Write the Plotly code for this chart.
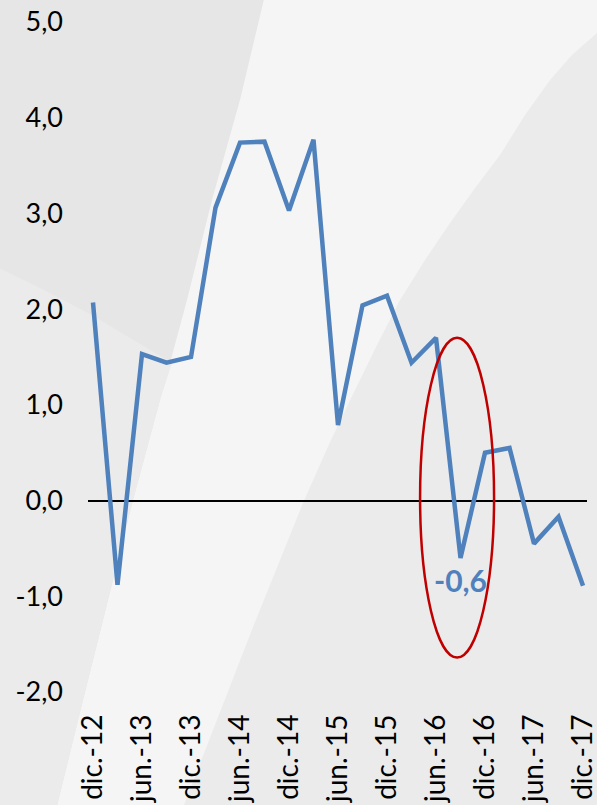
import plotly.graph_objects as go

# ---- data ----
periods = ["dic.-12", "mar.-13", "jun.-13", "sep.-13", "dic.-13", "mar.-14", "jun.-14",
           "sep.-14", "dic.-14", "mar.-15", "jun.-15", "sep.-15", "dic.-15", "mar.-16",
           "jun.-16", "sep.-16", "dic.-16", "mar.-17", "jun.-17", "sep.-17", "dic.-17"]
values = [2.07, -0.88, 1.53, 1.44, 1.50, 3.06, 3.74, 3.75, 3.03, 3.77, 0.79,
          2.04, 2.14, 1.44, 1.70, -0.60, 0.50, 0.55, -0.45, -0.17, -0.89]
tick_labels = ["dic.-12", "jun.-13", "dic.-13", "jun.-14", "dic.-14", "jun.-15",
               "dic.-15", "jun.-16", "dic.-16", "jun.-17", "dic.-17"]
y_ticks = [-2, -1, 0, 1, 2, 3, 4, 5]
y_tick_labels = [f"{v:.1f}".replace(".", ",") for v in y_ticks]
highlight_label = "-0,6"
highlight_index = 15

# ---- layout geometry ----
W, H = 597, 805
ML, MR, MT, MB = 88, 10, 22, 113
PW, PH = W - ML - MR, H - MT - MB

def px(xp, yp):
    return (xp - ML) / PW, (H - MB - yp) / PH

def path(points):
    parts = []
    for i, (a, b) in enumerate(points):
        x, y = px(a, b)
        parts.append(("M" if i == 0 else "L") + f"{x:.4f},{y:.4f}")
    return " ".join(parts) + " Z"

left_gray = [(-5, -5), (265, -5), (240, 100), (212, 200), (187, 300), (160, 400),
             (133, 500), (108, 600), (83, 700), (56, 810), (-5, 810)]
left_lighter = [(-5, 266), (40, 288), (90, 314), (130, 338), (172, 363), (160, 400),
                (133, 500), (108, 600), (83, 700), (56, 810), (-5, 810)]
right_gray = [(602, 30), (597, 33), (572, 55), (550, 80), (525, 115), (500, 155),
              (475, 188), (450, 223), (425, 260), (400, 300), (377, 345), (355, 390),
              (330, 442), (303, 503), (278, 565), (253, 627), (182, 810), (602, 810)]

x_idx = list(range(len(periods)))

fig = go.Figure()
fig.add_trace(go.Scatter(
    x=x_idx, y=values, mode="lines",
    line=dict(color="#4f81bd", width=4.5),
    hoverinfo="skip", showlegend=False,
))

shapes = [
    dict(type="path", xref="paper", yref="paper", path=path(left_gray),
         fillcolor="#e6e6e6", line=dict(width=0), layer="below"),
    dict(type="path", xref="paper", yref="paper", path=path(left_lighter),
         fillcolor="#ebebeb", line=dict(width=0), layer="below"),
    dict(type="path", xref="paper", yref="paper", path=path(right_gray),
         fillcolor="#ebebeb", line=dict(width=0), layer="below"),
    dict(type="circle", xref="x", yref="y", x0=13.35, x1=16.37, y0=-1.64, y1=1.70,
         line=dict(color="#c00000", width=2.5), fillcolor="rgba(0,0,0,0)", layer="above"),
]

fig.update_layout(
    width=W, height=H,
    margin=dict(l=ML, r=MR, t=MT, b=MB),
    paper_bgcolor="#f5f5f5",
    plot_bgcolor="rgba(0,0,0,0)",
    font=dict(family="Lato", color="#000000", size=27),
    shapes=shapes,
    showlegend=False,
    xaxis=dict(
        range=[-0.204, 20.163], showgrid=False, zeroline=False, showline=False,
        tickmode="array", tickvals=x_idx[::2], ticktext=tick_labels,
        tickangle=-90, ticks="", ticklabelstandoff=16, automargin=False,
        ticklabeloverflow="allow",
        tickfont=dict(size=28, family="Lato"),
    ),
    yaxis=dict(
        range=[-2, 5], showgrid=False, zeroline=True, zerolinecolor="#000000",
        zerolinewidth=1.5, showline=False, tickmode="array", tickvals=y_ticks,
        ticktext=y_tick_labels, ticks="", ticklabelstandoff=24, automargin=False,
        ticklabeloverflow="allow",
        tickfont=dict(size=27, family="Lato"),
    ),
    annotations=[dict(
        x=highlight_index, y=values[highlight_index], xref="x", yref="y",
        text=f"<b>{highlight_label}</b>", showarrow=False, yanchor="top", yshift=-2,
        font=dict(color="#4f81bd", size=30, family="Lato"),
    )],
)

fig.write_html(
    "out.html",
    config={"displayModeBar": False},
    post_script="document.body.style.margin='0';document.body.style.overflow='hidden';",
)
